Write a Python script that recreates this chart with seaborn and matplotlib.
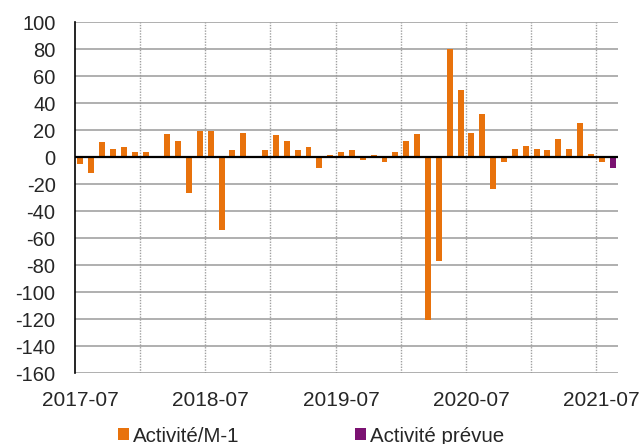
import pandas as pd
import seaborn as sns
import matplotlib
matplotlib.use('Agg')
import matplotlib.pyplot as plt

# mois de 2017-07 a 2021-08
mois = [f"{2017 + (6 + i) // 12}-{(6 + i) % 12 + 1:02d}" for i in range(50)]

activite_m1 = [-5, -12, 11, 6, 7.5, 4, 4, -0.5, 17, 12,
               -27, 19, 19, -54, 5, 18, -0.5, 5, 16, 12,
               5, 7.5, -8, 1.5, 4, 5, -2, 1.5, -3.5, 4,
               12, 17, -121, -77, 80, 50, 18, 32, -23.5, -4,
               6, 8.5, 6, 5, 13, 6, 25, 2.5, -4, None]
activite_prevue = [None] * 49 + [-8.5]

tick_labels = ["2017-07", "2018-07", "2019-07", "2020-07", "2021-07"]
series = ["Activité/M-1", "Activité prévue"]

df = pd.DataFrame({"mois": mois, series[0]: activite_m1, series[1]: activite_prevue})
df = df.melt(id_vars="mois", var_name="serie", value_name="valeur").dropna()

sns.set_theme(style="white")
plt.rcParams['font.family'] = ['Liberation Sans', 'DejaVu Sans']
plt.rcParams['axes.unicode_minus'] = False

fig, ax = plt.subplots(figsize=(6.44, 4.44), dpi=100)
fig.subplots_adjust(left=75 / 644, right=618 / 644, top=1 - 22 / 444, bottom=1 - 373 / 444)

sns.barplot(data=df, x="mois", y="valeur", hue="serie", order=mois, hue_order=series,
            palette=["#E8720C", "#7B1272"], saturation=1, dodge=False, width=0.55,
            linewidth=0, ax=ax)

ax.set_xlim(-0.5, 49.5)
ax.set_ylim(-160, 100)
ax.set_yticks(range(-160, 101, 20))
ax.yaxis.grid(True, color="#9a9a9a", lw=1.1)
ax.set_axisbelow(True)
for x in [5.5, 11.5, 17.5, 23.5, 29.5, 35.5, 41.5, 47.5]:
    ax.axvline(x, color="#a0a0a0", lw=1, ls=(0, (1, 1)), zorder=0.5)
ax.axhline(0, color="black", lw=1.6, zorder=3)

ax.set_xticks([0, 12, 24, 36, 48])
ax.set_xticklabels(tick_labels)
ax.tick_params(axis="x", length=0, pad=13, labelsize=15)
ax.tick_params(axis="y", length=0, pad=14, labelsize=14.5)
ax.set_xlabel("")
ax.set_ylabel("")

for s in ["top", "right", "bottom"]:
    ax.spines[s].set_visible(False)
ax.spines["left"].set_color("black")
ax.spines["left"].set_linewidth(1.2)

handles, labels = ax.get_legend_handles_labels()
ax.get_legend().remove()
fig.legend(handles, labels, ncol=2, loc="center left", bbox_to_anchor=(118 / 644, 1 - 436 / 444),
           frameon=False, fontsize=14.8, handlelength=0.55, handleheight=0.55,
           handletextpad=0.2, columnspacing=5.6, borderpad=0, borderaxespad=0)

plt.savefig("out.png", dpi=100)
